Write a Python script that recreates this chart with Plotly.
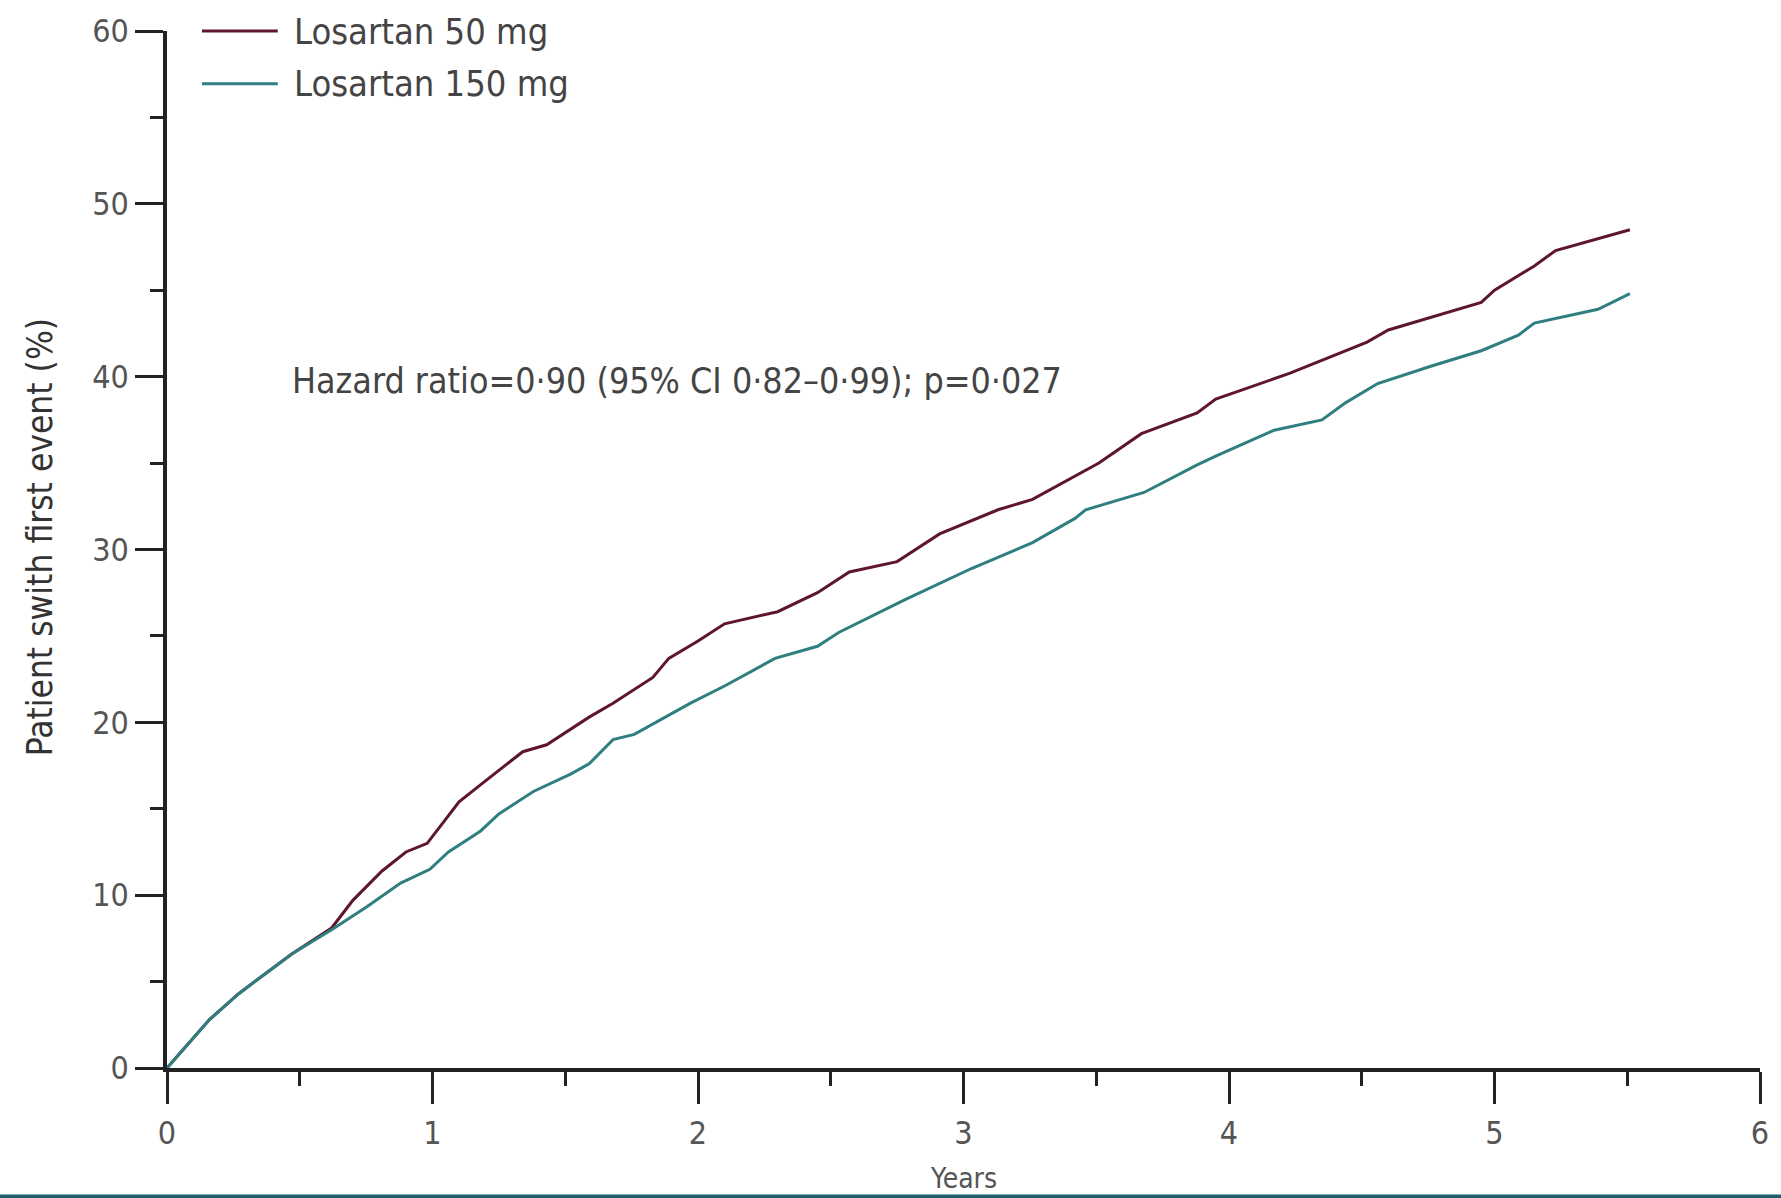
import plotly.graph_objects as go

# ---- data ----
years_50 = [0, 0.16, 0.27, 0.47, 0.62, 0.70, 0.81, 0.90, 0.98, 1.10, 1.19, 1.34, 1.43, 1.59, 1.68,
            1.83, 1.89, 2.00, 2.10, 2.30, 2.45, 2.57, 2.75, 2.91, 3.13, 3.26, 3.51, 3.67, 3.88, 3.95,
            4.23, 4.52, 4.60, 4.82, 4.95, 5.00, 5.15, 5.23, 5.39, 5.51]
pct_50 = [0, 2.8, 4.3, 6.6, 8.1, 9.7, 11.4, 12.5, 13.0, 15.4, 16.5, 18.3, 18.7, 20.3, 21.1,
          22.6, 23.7, 24.7, 25.7, 26.4, 27.5, 28.7, 29.3, 30.9, 32.3, 32.9, 35.0, 36.7, 37.9, 38.7,
          40.2, 42.0, 42.7, 43.7, 44.3, 45.0, 46.4, 47.3, 48.0, 48.5]

years_150 = [0, 0.16, 0.27, 0.47, 0.62, 0.75, 0.88, 0.99, 1.06, 1.18, 1.25, 1.38, 1.52, 1.59, 1.68,
             1.76, 1.97, 2.10, 2.29, 2.45, 2.53, 2.62, 2.78, 3.03, 3.26, 3.42, 3.46, 3.68, 3.88, 3.95,
             4.17, 4.35, 4.44, 4.56, 4.76, 4.95, 5.09, 5.15, 5.39, 5.51]
pct_150 = [0, 2.8, 4.3, 6.6, 8.0, 9.3, 10.7, 11.5, 12.5, 13.7, 14.7, 16.0, 17.0, 17.6, 19.0,
           19.3, 21.1, 22.1, 23.7, 24.4, 25.2, 25.9, 27.1, 28.9, 30.4, 31.8, 32.3, 33.3, 34.9, 35.4,
           36.9, 37.5, 38.5, 39.6, 40.6, 41.5, 42.4, 43.1, 43.9, 44.8]

series_names = ["Losartan 50 mg", "Losartan 150 mg"]
x_ticks = [0, 1, 2, 3, 4, 5, 6]
y_ticks = [0, 10, 20, 30, 40, 50, 60]
annotation_text = "Hazard ratio=0·90 (95% CI 0·82–0·99); p=0·027"

C50 = "#5e1530"
C150 = "#2f7f80"
FONT = "DejaVu Sans Condensed, Liberation Sans Narrow, Arial"

fig = go.Figure()
fig.add_trace(go.Scatter(x=years_50, y=pct_50, mode="lines", name=series_names[0],
                         line=dict(color=C50, width=3), showlegend=False))
fig.add_trace(go.Scatter(x=years_150, y=pct_150, mode="lines", name=series_names[1],
                         line=dict(color=C150, width=3), showlegend=False))

W, H = 1781, 1198
L, R, T, B = 167, 18, 27, 130
pw, ph = W - L - R, H - T - B

def px_x(p):
    return (p - L) / pw

def px_y(p):
    return (H - B - p) / ph

# manual legend
for i, (name, col) in enumerate(zip(series_names, [C50, C150])):
    yy = px_y(27 + 53 * i)
    fig.add_shape(type="line", xref="paper", yref="paper", x0=px_x(202), x1=px_x(278),
                  y0=yy, y1=yy, line=dict(color=col, width=3))
    fig.add_annotation(xref="paper", yref="paper", x=px_x(292), y=yy, text=name,
                       showarrow=False, xanchor="left", yanchor="middle",
                       font=dict(family=FONT, size=36, color="#444"))

fig.add_annotation(xref="paper", yref="paper", x=px_x(290), y=px_y(378), text=annotation_text,
                   showarrow=False, xanchor="left", yanchor="middle",
                   font=dict(family=FONT, size=35.5, color="#444"))

fig.add_annotation(xref="paper", yref="paper", x=px_x(40), y=px_y(535),
                   text="Patient swith first event (%)", textangle=-90, showarrow=False,
                   xanchor="center", yanchor="middle",
                   font=dict(family=FONT, size=35, color="#333"))

fig.add_annotation(xref="paper", yref="paper", x=0.5, y=px_y(1160), text="Years",
                   showarrow=False, xanchor="center", yanchor="top",
                   font=dict(family=FONT, size=28, color="#555"))

# bottom band
fig.add_shape(type="rect", xref="paper", yref="paper", x0=px_x(-5), x1=px_x(W + 5),
              y0=px_y(1195), y1=px_y(1205), line=dict(width=0), fillcolor="#1d5e6b", layer="above")

fig.update_layout(
    width=W, height=H, margin=dict(l=L, r=R, t=T, b=B),
    plot_bgcolor="white", paper_bgcolor="white",
    font=dict(family=FONT, size=32, color="#555"),
    xaxis=dict(range=[0, 6], tickvals=x_ticks, ticktext=[str(v) for v in x_ticks],
               showgrid=False, zeroline=False, showline=True, linecolor="#222", linewidth=4,
               ticks="outside", ticklen=32, tickwidth=3, tickcolor="#222",
               ticklabelstandoff=2,
               minor=dict(dtick=0.5, ticks="outside", ticklen=14, tickwidth=3, tickcolor="#222",
                          showgrid=False),
               tickfont=dict(family=FONT, size=32, color="#555")),
    yaxis=dict(range=[0, 60], tickvals=y_ticks, ticktext=[str(v) for v in y_ticks],
               showgrid=False, zeroline=False, showline=True, linecolor="#222", linewidth=3.5,
               ticks="outside", ticklen=28, tickwidth=3, tickcolor="#222",
               minor=dict(dtick=5, ticks="outside", ticklen=13, tickwidth=3, tickcolor="#222",
                          showgrid=False),
               tickfont=dict(family=FONT, size=32, color="#555")),
)

fig.write_html("out.html")
